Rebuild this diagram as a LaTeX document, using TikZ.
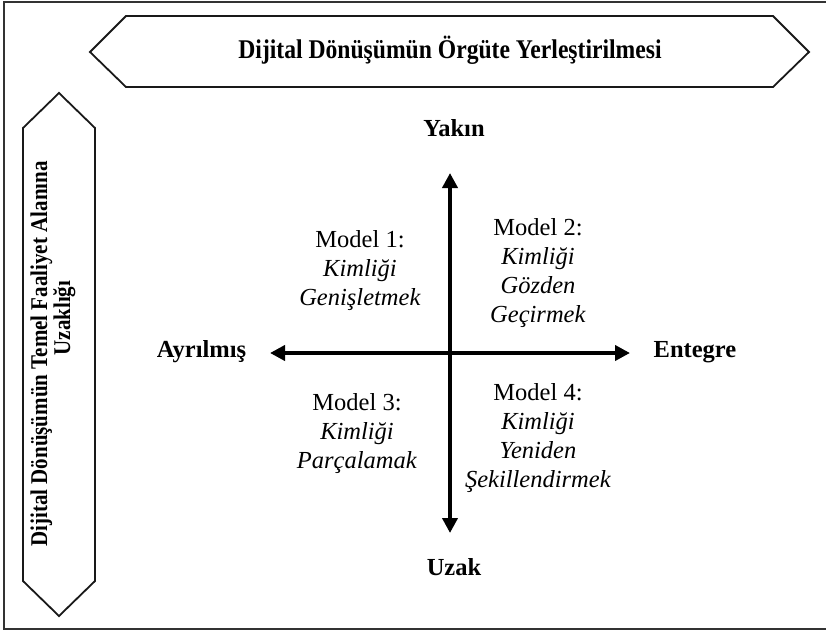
\documentclass[tikz,border=0pt]{standalone}
\usepackage{fontspec}
\usepackage{graphicx}
\setmainfont{Liberation Serif}
\usetikzlibrary{arrows.meta}
\newcommand{\narrow}[1]{\scalebox{0.875}[1]{#1}}
\begin{document}
\begin{tikzpicture}[x=1pt,y=-1pt,
  frame/.style={draw=black!80, line width=2.6pt},
  hexline/.style={draw=black!90, line width=1.8pt, line join=miter},
  axis/.style={line width=4pt,
    {Triangle[width=15pt,length=15pt]}-{Triangle[width=15pt,length=15pt]}},
  pole/.style={anchor=base, inner sep=0pt, font=\fontsize{24.5}{29}\selectfont\bfseries},
  quad/.style={anchor=base, inner sep=0pt, align=center, font=\fontsize{24.5}{29}\selectfont},
  banner/.style={inner sep=0pt, align=center, font=\fontsize{27}{30}\selectfont\bfseries},
  sidebanner/.style={inner sep=0pt, align=center, rotate=90, font=\fontsize{24}{20}\selectfont\bfseries},
]
\useasboundingbox (0,0) rectangle (826,634);
% outer frame
\draw[frame] (4,2) rectangle (828,629);

% horizontal banner
\draw[hexline] (90,52) -- (126,16) -- (773,16) -- (809,52) -- (773,87) -- (126,87) -- cycle;
\node[banner] (title) at (450,50) {\narrow{Dijital Dönüşümün Örgüte Yerleştirilmesi}};

% vertical banner
\draw[hexline] (59,93) -- (95,128) -- (95,581) -- (59,616) -- (23,581) -- (23,128) -- cycle;
\node[sidebanner] (side) at (53,354)
  {\narrow{Dijital Dönüşümün Temel Faaliyet Alanına}\\\narrow{\hspace*{82pt}Uzaklığı}};

% axes
\coordinate (c) at (450,353);
\coordinate (top) at (450,173);
\coordinate (bottom) at (450,533);
\coordinate (left) at (270,353);
\coordinate (right) at (630,353);
\draw[axis] (bottom) -- (top);
\draw[axis] (left) -- (right);

% axis poles
\node[pole] (yakin) at (454,136) {Yakın};
\node[pole] (uzak) at (454,575) {Uzak};
\node[pole] (ayrilmis) at (201.5,357) {Ayrılmış};
\node[pole] (entegre) at (695,357) {Entegre};

% quadrants (base anchor sits on the last line)
\node[quad] (m1) at (360,305) {Model 1:\\\textit{Kimliği}\\\textit{Genişletmek}};
\node[quad] (m2) at (538,322) {Model 2:\\\textit{Kimliği}\\\textit{Gözden}\\\textit{Geçirmek}};
\node[quad] (m3) at (357,468) {Model 3:\\\textit{Kimliği}\\\textit{Parçalamak}};
\node[quad] (m4) at (538,487) {Model 4:\\\textit{Kimliği}\\\textit{Yeniden}\\\textit{Şekillendirmek}};
\end{tikzpicture}
\end{document}
